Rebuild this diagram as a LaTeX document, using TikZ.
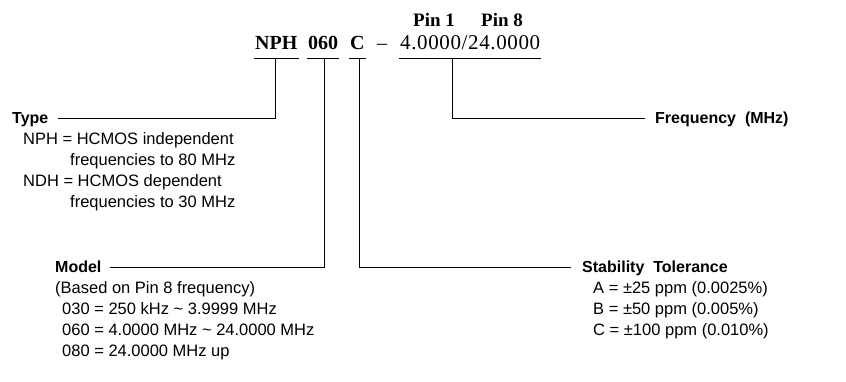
\documentclass[tikz,border=0pt]{standalone}
\usepackage{fontspec}
\setmainfont{Liberation Serif}
\newfontfamily\lsans{Liberation Sans}
\newfontfamily\spacedserif[LetterSpace=3]{Liberation Serif}
\begin{document}
\begin{tikzpicture}[x=1pt,y=-1pt,
  txt/.style={anchor=west,inner sep=0pt,font=\lsans\fontsize{16.5}{20}\selectfont,text height=11.8pt,text depth=0pt},
  head/.style={anchor=west,inner sep=0pt,font=\lsans\bfseries\fontsize{16}{20}\selectfont,text height=11.5pt,text depth=0pt},
  code/.style={anchor=base west,inner xsep=1pt,inner ysep=0pt,text depth=8pt,font=\bfseries\fontsize{20}{24}\selectfont},
  codereg/.style={code,font=\spacedserif\fontsize{21}{24}\selectfont},
  pin/.style={anchor=base west,inner sep=0pt,font=\bfseries\fontsize{19}{22}\selectfont},
  conn/.style={line width=0.9pt}
]
\useasboundingbox (0,0) rectangle (846,382);

% top code
\node[pin] (pin1) at (413,27) {Pin 1};
\node[pin] (pin8) at (481,27) {Pin 8};
\node[code] (nph) at (254,50) {NPH};
\node[code] (mod) at (307,50) {060};
\node[code] (stb) at (349,50) {C};
\node[anchor=base west,inner sep=0pt,font=\fontsize{20}{24}\selectfont] (dash) at (377,50) {\textendash};
\node[codereg] (frq) at (399,50) {4.0000/24.0000};

\foreach \n in {nph,mod,stb,frq}
  \draw[conn] (\n.south west) -- (\n.south east);

\coordinate (nphU) at (275,58);
\coordinate (modU) at (324,58);
\coordinate (stbU) at (359,58);
\coordinate (frqU) at (452,58);

% Type block
\node[head] (type) at (12,118) {Type};
\node[txt] (t1) at (23,139) {NPH = HCMOS independent};
\node[txt] (t2) at (70,160) {frequencies to 80 MHz};
\node[txt] (t3) at (23,181) {NDH = HCMOS dependent};
\node[txt] (t4) at (70,202) {frequencies to 30 MHz};

% Frequency
\node[head] (freq) at (655,118) {Frequency\ \ (MHz)};

% Model block
\node[head] (model) at (55,267) {Model};
\node[txt] (m1) at (55,288) {(Based on Pin 8 frequency)};
\node[txt] (m2) at (62,309) {030 = 250 kHz \textasciitilde{} 3.9999 MHz};
\node[txt] (m3) at (62,330) {060 = 4.0000 MHz \textasciitilde{} 24.0000 MHz};
\node[txt] (m4) at (62,351) {080 = 24.0000 MHz up};

% Stability block
\node[head] (stab) at (582,267) {Stability\ \ Tolerance};
\node[txt] (s1) at (593,288) {A = ±25 ppm (0.0025\%)};
\node[txt] (s2) at (593,309) {B = ±50 ppm (0.005\%)};
\node[txt] (s3) at (593,330) {C = ±100 ppm (0.010\%)};

% connectors
\draw[conn] ([xshift=9pt]type.east) -| (nphU);
\draw[conn] ([xshift=8pt]model.east) -| (modU);
\draw[conn] ([xshift=-11pt]stab.west) -| (stbU);
\draw[conn] ([xshift=-10pt]freq.west) -| (frqU);
\end{tikzpicture}
\end{document}
